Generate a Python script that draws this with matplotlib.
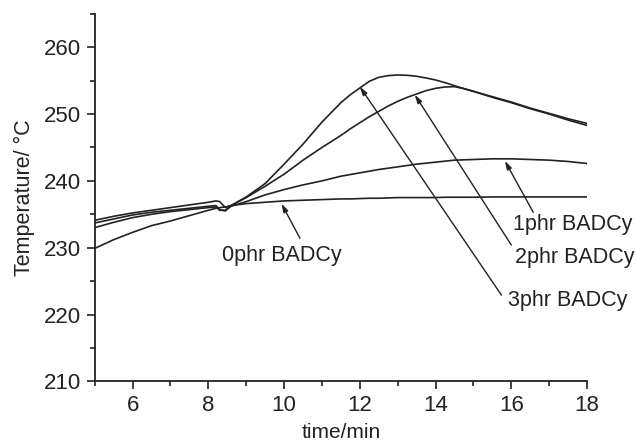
import matplotlib
matplotlib.use("Agg")
import matplotlib.pyplot as plt
from matplotlib.ticker import MultipleLocator

plt.rcParams['font.family'] = ['Liberation Sans', 'DejaVu Sans']

t = [5, 5.5, 6, 6.5, 7, 7.5, 8, 8.2, 8.3, 8.45, 8.6, 9, 9.5, 10, 10.5, 11, 11.5,
     11.75, 12, 12.25, 12.5, 12.75, 13, 13.25, 13.5, 13.75, 14, 14.25, 14.5, 14.75,
     15, 15.5, 16, 16.5, 17, 17.5, 18]

temp_3phr = [234.1, 234.7, 235.2, 235.6, 236.0, 236.4, 236.8, 237.0, 236.9, 236.0, 236.3,
             237.6, 239.6, 242.5, 245.5, 248.8, 251.7,
             252.9, 253.9, 254.9, 255.5, 255.75, 255.85, 255.8, 255.65, 255.4, 255.1, 254.7,
             254.25, 253.8, 253.4, 252.6, 251.8, 250.9, 250.1, 249.3, 248.6]
temp_2phr = [233.7, 234.3, 234.9, 235.3, 235.6, 235.9, 236.2, 236.3, 235.7, 235.5, 236.3,
             237.5, 239.2, 241.0, 243.1, 245.0, 246.8,
             247.8, 248.7, 249.6, 250.4, 251.2, 251.9, 252.5, 253.0, 253.5, 253.85, 254.05,
             254.1, 253.8, 253.4, 252.5, 251.7, 250.8, 250.0, 249.1, 248.3]
temp_1phr = [233.0, 233.8, 234.5, 235.0, 235.4, 235.7, 236.0, 236.1, 235.6, 235.6, 236.2,
             236.9, 237.9, 238.7, 239.4, 240.0, 240.7,
             240.95, 241.2, 241.45, 241.7, 241.9, 242.1, 242.3, 242.5, 242.65, 242.8, 242.95,
             243.1, 243.15, 243.2, 243.3, 243.3, 243.2, 243.1, 242.9, 242.6]
temp_0phr = [229.9, 231.2, 232.3, 233.3, 234.0, 234.8, 235.6, 235.9, 236.0, 236.1, 236.3,
             236.6, 236.8, 237.0, 237.1, 237.2, 237.3,
             237.3, 237.35, 237.4, 237.4, 237.45, 237.5, 237.5, 237.5, 237.5, 237.5, 237.55,
             237.55, 237.55, 237.55, 237.6, 237.6, 237.6, 237.6, 237.6, 237.6]

labels = ["0phr BADCy", "1phr BADCy", "2phr BADCy", "3phr BADCy"]
arrow_tips = [(9.93, 236.6), (15.83, 243.0), (13.45, 252.9), (12.0, 254.1)]
arrow_tails = [(10.42, 231.4), (16.58, 235.3), (16.0, 230.4), (15.74, 222.9)]
label_pos = [(8.37, 228.9), (16.05, 233.4), (16.1, 228.6), (15.92, 222.1)]

fig = plt.figure(figsize=(6.36, 4.46), dpi=100)
ax = fig.add_axes([0.149, 0.145, 0.774, 0.824])

for y in [temp_0phr, temp_1phr, temp_2phr, temp_3phr]:
    ax.plot(t, y, color='#222222', lw=1.2)

for lab, tip, tail, pos in zip(labels, arrow_tips, arrow_tails, label_pos):
    ax.annotate("", xy=tip, xytext=tail,
                arrowprops=dict(arrowstyle='-|>,head_length=0.5,head_width=0.15',
                                color='#222222', lw=1.0, shrinkA=0, shrinkB=0))
    ax.text(pos[0], pos[1], lab, fontsize=15.5, ha='left', va='center', color='#222222')

ax.set_xlim(5, 18)
ax.set_ylim(210, 265)
ax.xaxis.set_major_locator(MultipleLocator(2))
ax.xaxis.set_minor_locator(MultipleLocator(1))
ax.yaxis.set_minor_locator(MultipleLocator(5))
ax.set_yticks([210, 220, 230, 240, 250, 260])
ax.spines['top'].set_visible(False)
ax.spines['right'].set_visible(False)
for s in ['left', 'bottom']:
    ax.spines[s].set_linewidth(1.3)
    ax.spines[s].set_color('#222222')
ax.tick_params(which='major', direction='out', length=6, width=1.2, labelsize=16,
               colors='#222222', pad=4)
ax.tick_params(which='minor', direction='out', length=3.5, width=1.2, colors='#222222')

ax.set_xlabel("time/min", fontsize=15, color='#222222', labelpad=5)
ax.set_ylabel("Temperature/ \u00b0C", fontsize=15.5, color='#222222', labelpad=6)

fig.savefig("out.png", dpi=100)
